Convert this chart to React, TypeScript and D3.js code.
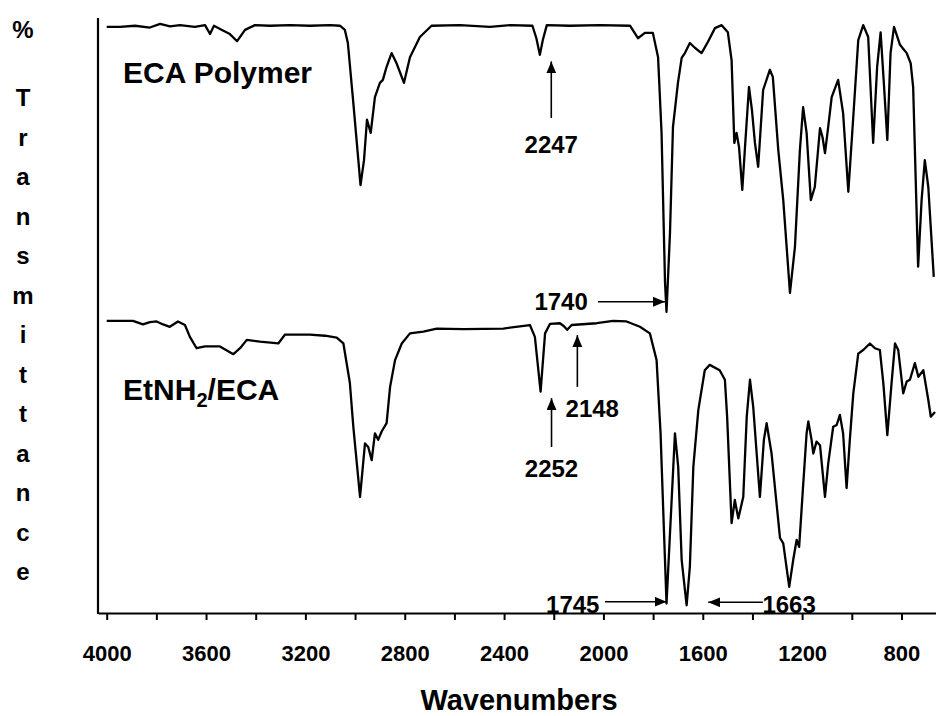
import React, { useEffect, useRef } from 'react';
import * as d3 from 'd3';

// ECA Polymer spectrum (upper trace)
const ecaWavenumbers = [4000, 3946, 3886, 3826, 3785, 3745, 3705, 3645, 3604, 3584, 3568, 3536, 3504, 3475, 3443, 3403, 3343, 3262, 3182, 3101, 3061, 3041, 3029, 3008, 2978, 2964, 2952, 2937, 2920, 2900, 2888, 2873, 2853, 2833, 2803, 2779, 2739, 2692, 2578, 2457, 2376, 2286, 2270, 2256, 2244, 2228, 2135, 2014, 1893, 1861, 1833, 1801, 1780, 1766, 1752, 1746, 1732, 1720, 1700, 1685, 1672, 1652, 1632, 1605, 1579, 1551, 1524, 1499, 1484, 1473, 1464, 1454, 1441, 1430, 1414, 1402, 1390, 1377, 1357, 1330, 1318, 1296, 1276, 1249, 1229, 1209, 1196, 1182, 1165, 1149, 1128, 1118, 1108, 1095, 1081, 1055, 1035, 1014, 994, 974, 954, 934, 914, 898, 884, 871, 857, 844, 830, 806, 779, 763, 753, 733, 719, 706, 692, 670];
const ecaTransmittance = [98.5, 98.5, 98.7, 98.4, 99.0, 98.6, 98.8, 98.5, 98.8, 97.3, 98.7, 98.0, 97.3, 96.1, 98.0, 98.8, 98.7, 98.8, 98.7, 98.8, 98.7, 98.0, 95.8, 86.2, 71.9, 76.1, 82.9, 80.7, 86.7, 89.1, 89.6, 91.8, 94.1, 92.4, 89.1, 93.4, 96.8, 98.7, 98.8, 98.5, 98.8, 98.7, 96.6, 93.8, 96.3, 98.8, 98.7, 98.8, 98.7, 96.6, 97.5, 97.5, 93.4, 80.7, 55.5, 50.6, 63.9, 81.7, 89.1, 93.3, 94.1, 95.8, 95.0, 94.1, 96.0, 98.3, 98.8, 97.6, 92.9, 79.0, 80.7, 78.3, 71.1, 78.3, 88.4, 84.5, 79.0, 75.0, 87.9, 91.3, 90.1, 77.8, 69.4, 53.8, 61.5, 77.8, 85.0, 80.7, 69.4, 71.6, 81.5, 80.0, 77.3, 81.7, 86.7, 89.6, 84.0, 70.8, 83.4, 96.3, 98.8, 96.8, 79.0, 91.8, 97.6, 89.1, 79.5, 94.1, 98.5, 95.5, 94.1, 92.4, 88.4, 58.2, 69.4, 76.1, 71.6, 56.5];

// EtNH2/ECA spectrum (lower trace)
const etWavenumbers = [4000, 3894, 3854, 3826, 3799, 3773, 3746, 3713, 3685, 3665, 3638, 3604, 3544, 3490, 3463, 3436, 3383, 3309, 3282, 3182, 3121, 3074, 3047, 3021, 3007, 2980, 2960, 2947, 2933, 2920, 2907, 2893, 2873, 2859, 2839, 2812, 2779, 2725, 2671, 2564, 2403, 2296, 2276, 2253, 2235, 2215, 2175, 2159, 2146, 2128, 2027, 1961, 1907, 1853, 1813, 1786, 1770, 1756, 1746, 1732, 1712, 1699, 1685, 1665, 1652, 1638, 1618, 1592, 1572, 1532, 1511, 1502, 1484, 1471, 1457, 1437, 1423, 1410, 1397, 1383, 1370, 1354, 1343, 1323, 1303, 1289, 1276, 1252, 1236, 1222, 1212, 1198, 1182, 1175, 1162, 1155, 1142, 1128, 1108, 1095, 1075, 1061, 1048, 1035, 1021, 1008, 994, 974, 954, 927, 907, 887, 873, 857, 840, 826, 813, 793, 779, 766, 746, 732, 712, 692, 682, 665];
const etTransmittance = [49.1, 49.1, 48.5, 48.9, 49.0, 48.5, 48.1, 49.0, 48.4, 46.4, 44.5, 44.8, 44.8, 43.5, 44.5, 45.9, 45.6, 45.3, 46.8, 46.8, 46.6, 46.3, 45.3, 38.7, 31.3, 19.5, 28.5, 27.9, 25.7, 30.2, 29.1, 30.5, 31.9, 38.0, 42.5, 45.3, 47.0, 47.3, 47.8, 47.7, 47.8, 48.4, 46.4, 37.2, 47.0, 48.6, 48.7, 48.2, 47.6, 48.4, 48.7, 49.1, 49.0, 48.1, 47.0, 42.5, 30.2, 13.4, 1.6, 13.4, 30.2, 24.6, 8.9, 1.3, 7.8, 24.6, 34.1, 40.8, 41.7, 40.8, 39.2, 33.0, 15.1, 19.0, 15.9, 19.5, 33.0, 39.2, 34.7, 26.8, 19.5, 29.1, 31.9, 26.8, 18.4, 12.6, 11.7, 4.4, 8.9, 12.3, 11.1, 20.1, 30.2, 32.2, 29.1, 26.8, 28.8, 28.2, 19.5, 25.1, 31.3, 31.6, 33.3, 30.2, 21.0, 29.1, 36.9, 43.6, 44.2, 45.3, 44.5, 44.2, 38.6, 29.9, 38.6, 45.3, 44.2, 36.9, 38.9, 39.2, 42.0, 39.7, 40.8, 35.8, 33.0, 33.8];

const tickValues = [4000, 3800, 3600, 3400, 3200, 3000, 2800, 2600, 2400, 2200, 2000, 1800, 1600, 1400, 1200, 1000, 800];
const yLabelLetters = ['%', 'T', 'r', 'a', 'n', 's', 'm', 'i', 't', 't', 'a', 'n', 'c', 'e'];

// peak annotations: vertical arrows (tail -> tip) and horizontal arrows
const vArrows = [
  { label: '2247', w: 2210, from: 83.2, to: 92.7, labelW: 2210, labelT: 77.3, anchor: 'middle' },
  { label: '2252', w: 2209, from: 27.9, to: 36.1, labelW: 2209, labelT: 22.9, anchor: 'middle' },
  { label: '2148', w: 2105, from: 38.0, to: 46.7, labelW: 2045, labelT: 32.9, anchor: 'middle' },
];
const hArrows = [
  { label: '1740', t: 52.3, from: 2022, to: 1752, labelW: 2063, labelT: 50.9, anchor: 'end' },
  { label: '1745', t: 1.9, from: 1994, to: 1746, labelW: 2016, labelT: 0.0, anchor: 'end' },
  { label: '1663', t: 1.8, from: 1358, to: 1578, labelW: 1360, labelT: 0.0, anchor: 'start' },
];

const W = 936;
const H = 716;
const FONT = '"Liberation Sans", Arial, Helvetica, sans-serif';

const App = () => {
  const svgRef = useRef(null);

  useEffect(() => {
    const svg = d3.select(svgRef.current);
    svg.selectAll('*').remove();

    const x = d3.scaleLinear().domain([4035, 661]).range([98, 936]);
    const y = d3.scaleLinear().domain([0, 100]).range([613, 18]);

    svg.append('defs')
      .append('marker')
      .attr('id', 'head')
      .attr('markerUnits', 'userSpaceOnUse')
      .attr('markerWidth', 13)
      .attr('markerHeight', 11)
      .attr('refX', 12)
      .attr('refY', 5)
      .attr('orient', 'auto')
      .append('path')
      .attr('d', 'M0,0 L12,5 L0,10 Z')
      .attr('fill', '#000');

    // x axis
    const xAxis = d3.axisBottom(x)
      .tickValues(tickValues)
      .tickSize(7)
      .tickSizeOuter(0)
      .tickPadding(25)
      .tickFormat((d) => (d % 400 === 0 ? String(d) : ''));
    const gx = svg.append('g').attr('transform', 'translate(0,613)').call(xAxis);
    gx.select('.domain').attr('stroke', '#000').attr('stroke-width', 2.2);
    gx.selectAll('.tick line').attr('stroke', '#000').attr('stroke-width', 2);
    gx.selectAll('.tick text')
      .attr('fill', '#000')
      .attr('font-family', FONT)
      .attr('font-weight', 'bold')
      .attr('font-size', 22);

    // y axis (line only, no ticks)
    svg.append('line')
      .attr('x1', 98).attr('x2', 98)
      .attr('y1', y(100)).attr('y2', y(0) + 1)
      .attr('stroke', '#000').attr('stroke-width', 2.2);

    // spectra
    const line = d3.line().x((d) => x(d[0])).y((d) => y(d[1]));
    const series = [
      d3.zip(ecaWavenumbers, ecaTransmittance),
      d3.zip(etWavenumbers, etTransmittance),
    ];
    svg.selectAll('.spec')
      .data(series)
      .enter()
      .append('path')
      .attr('class', 'spec')
      .attr('d', line)
      .attr('fill', 'none')
      .attr('stroke', '#000')
      .attr('stroke-width', 2.3)
      .attr('stroke-linejoin', 'round');

    // sample labels
    svg.append('text')
      .attr('x', x(3934)).attr('y', y(89.0))
      .attr('font-family', FONT).attr('font-weight', 'bold').attr('font-size', 30)
      .text('ECA Polymer');
    const et = svg.append('text')
      .attr('x', x(3934)).attr('y', y(35.8))
      .attr('font-family', FONT).attr('font-weight', 'bold').attr('font-size', 30);
    et.append('tspan').text('EtNH');
    et.append('tspan').attr('font-size', 20).attr('dy', 7).text('2');
    et.append('tspan').attr('dy', -7).text('/ECA');

    // arrows
    const ann = svg.append('g').attr('font-family', FONT).attr('font-weight', 'bold').attr('font-size', 24);
    vArrows.forEach((a) => {
      ann.append('line')
        .attr('x1', x(a.w)).attr('x2', x(a.w))
        .attr('y1', y(a.from)).attr('y2', y(a.to))
        .attr('stroke', '#000').attr('stroke-width', 1.6)
        .attr('marker-end', 'url(#head)');
      ann.append('text')
        .attr('x', x(a.labelW)).attr('y', y(a.labelT))
        .attr('text-anchor', a.anchor)
        .text(a.label);
    });
    hArrows.forEach((a) => {
      ann.append('line')
        .attr('x1', x(a.from)).attr('x2', x(a.to))
        .attr('y1', y(a.t)).attr('y2', y(a.t))
        .attr('stroke', '#000').attr('stroke-width', 1.6)
        .attr('marker-end', 'url(#head)');
      ann.append('text')
        .attr('x', x(a.labelW)).attr('y', y(a.labelT))
        .attr('text-anchor', a.anchor)
        .text(a.label);
    });

    // axis titles
    svg.append('text')
      .attr('x', 519).attr('y', 710)
      .attr('text-anchor', 'middle')
      .attr('font-family', FONT).attr('font-weight', 'bold').attr('font-size', 29)
      .text('Wavenumbers');

    svg.append('g')
      .selectAll('text')
      .data(yLabelLetters)
      .enter()
      .append('text')
      .attr('x', 23)
      .attr('y', (d, i) => (i === 0 ? 30 : 98 + (i - 1) * 39.5))
      .attr('dy', '0.35em')
      .attr('text-anchor', 'middle')
      .attr('font-family', FONT).attr('font-weight', 'bold').attr('font-size', 24)
      .text((d) => d);
  }, []);

  return (
    <svg
      ref={svgRef}
      width={W}
      height={H}
      style={{ position: 'absolute', left: 0, top: 0, background: '#fff' }}
    />
  );
};

export default App;
